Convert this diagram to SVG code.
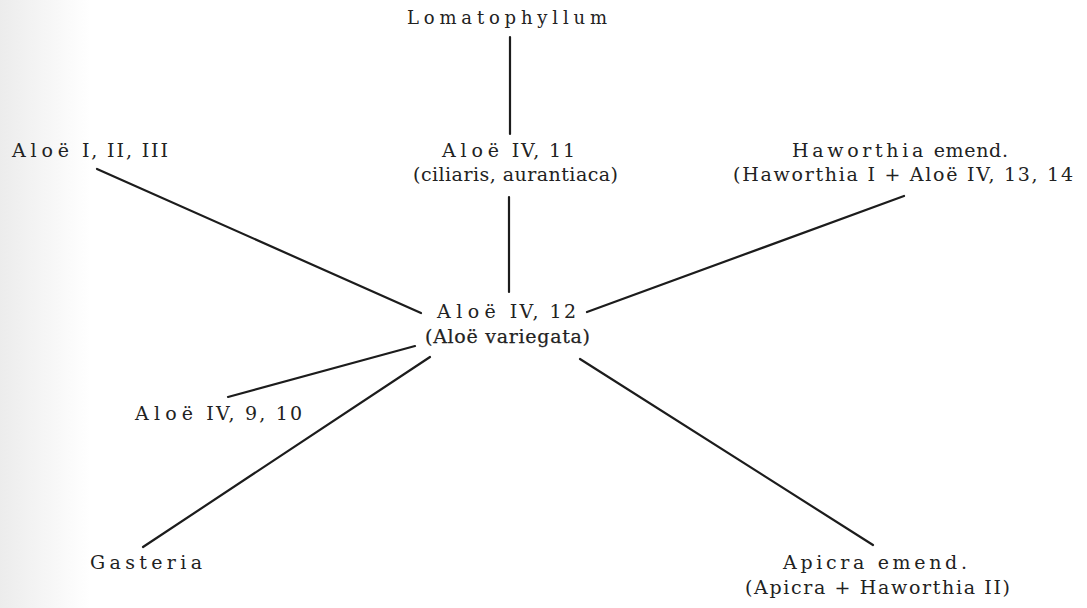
<svg xmlns="http://www.w3.org/2000/svg" width="1087" height="608" viewBox="0 0 1087 608">
<defs>
<linearGradient id="scan" x1="0" y1="0" x2="1" y2="0">
<stop offset="0" stop-color="#ececec"/>
<stop offset="1" stop-color="#ffffff"/>
</linearGradient>
<style>
text{font-family:"DejaVu Serif","Liberation Serif",serif;font-size:19px;fill:#222222;}
.t{font-size:18px;}
.sp{letter-spacing:3px;}
.heavy{stroke:#222222;stroke-width:0.25;}
.edge{stroke:#1c1c1c;stroke-width:2.2;stroke-linecap:round;fill:none;}
</style>
</defs>
<rect width="1087" height="608" fill="#ffffff"/>
<rect width="90" height="608" fill="url(#scan)"/>
<g id="connectors">
<line class="edge" x1="510" y1="37" x2="510" y2="134"/>
<line class="edge" x1="509" y1="197" x2="509" y2="292"/>
<line class="edge" x1="97" y1="169" x2="421" y2="313"/>
<line class="edge" x1="587" y1="312" x2="904" y2="196"/>
<line class="edge" x1="415" y1="346" x2="228" y2="397"/>
<line class="edge" x1="430" y1="357" x2="143" y2="547"/>
<line class="edge" x1="580" y1="359" x2="873" y2="545"/>
</g>
<g id="lomatophyllum">
<text class="t sp" x="407" y="24" textLength="203" lengthAdjust="spacing">Lomatophyllum</text>
</g>
<g id="aloe-1-2-3">
<text x="12" y="157" textLength="156" lengthAdjust="spacing"><tspan class="sp">Aloë</tspan> I, II, III</text>
</g>
<g id="aloe-4-11">
<text x="442" y="157" textLength="133" lengthAdjust="spacing"><tspan class="sp">Aloë</tspan> IV, 11</text>
<text x="413" y="181" textLength="205" lengthAdjust="spacing">(ciliaris, aurantiaca)</text>
</g>
<g id="haworthia">
<text x="792" y="157" textLength="216" lengthAdjust="spacing"><tspan class="sp">Haworthia</tspan> emend.</text>
<text x="733" y="181" textLength="340" lengthAdjust="spacing">(Haworthia I + Aloë IV, 13, 14</text>
</g>
<g id="aloe-4-12">
<text x="437" y="318" textLength="139" lengthAdjust="spacing"><tspan class="sp">Aloë</tspan> IV, 12</text>
<text class="heavy" x="425" y="343" textLength="165" lengthAdjust="spacing">(Aloë variegata)</text>
</g>
<g id="aloe-4-9-10">
<text x="135" y="420" textLength="167" lengthAdjust="spacing"><tspan class="sp">Aloë</tspan> IV, 9, 10</text>
</g>
<g id="gasteria">
<text class="sp" x="90" y="569" textLength="115" lengthAdjust="spacing">Gasteria</text>
</g>
<g id="apicra">
<text class="sp" x="783" y="569" textLength="187" lengthAdjust="spacing">Apicra emend.</text>
<text x="745" y="594" textLength="265" lengthAdjust="spacing">(Apicra + Haworthia II)</text>
</g>
</svg>
